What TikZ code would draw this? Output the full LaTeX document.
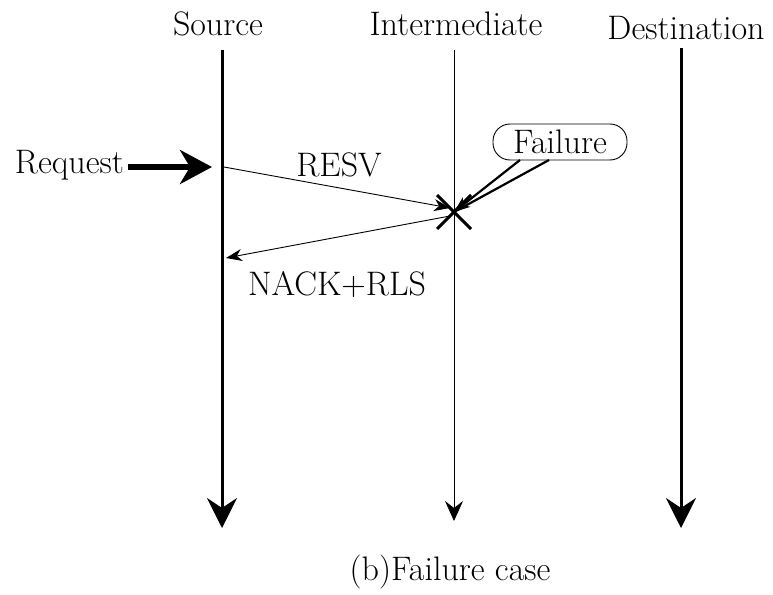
\documentclass[tikz,border=0pt]{standalone}
\usepackage{fontspec}
\usetikzlibrary{arrows.meta}
\begin{document}
\begin{tikzpicture}[x=1pt,y=-1pt,
  lbl/.style={font=\fontsize{34}{38}\selectfont, inner sep=0pt},
  lifeline/.style={line width=3pt, -{Stealth[length=30pt,width=30pt,inset=10pt]}},
  thinline/.style={line width=0.8pt, -{Stealth[length=20pt,width=18pt,inset=7pt]}},
  msg/.style={line width=0.9pt, -{Stealth[length=16pt,width=12pt,inset=5pt]}}]
\useasboundingbox (0,0) rectangle (773,594);
% entity headers
\node[lbl] (src) at (218,24) {Source};
\node[lbl] (mid) at (456,24) {Intermediate};
\node[lbl] (dst) at (686,28) {Destination};
% lifelines
\coordinate (srcTop) at (222,50);
\coordinate (srcEnd) at (222,528);
\coordinate (midTop) at (454,50);
\coordinate (midEnd) at (454,521);
\coordinate (dstTop) at (681,48);
\coordinate (dstEnd) at (681,528);
\draw[lifeline] (srcTop) -- (srcEnd);
\draw[thinline] (midTop) -- (midEnd);
\draw[lifeline] (dstTop) -- (dstEnd);
% incoming request
\node[lbl, anchor=east] (req) at (124,165) {Request};
\coordinate (reqEnd) at (212,167);
\draw[line width=6pt, -{Stealth[length=32pt,width=34pt,inset=10pt]}] (req.east) ++(4,2) -- (reqEnd);
% reservation message and failure point
\coordinate (resvStart) at (224,167);
\coordinate (cross) at (454,212);
\draw[msg] (resvStart) -- (450,208);
\node[lbl] (resv) at (339,165) {RESV};
\draw[line width=3pt] (cross) ++(-17,-17) -- ++(34,34);
\draw[line width=3pt] (cross) ++(-17,17) -- ++(34,-34);
% failure label
\node[lbl, draw, line width=0.9pt, rounded corners=17pt, minimum width=134pt, minimum height=36pt] (fail) at (560,142) {Failure};
\draw[line width=2.2pt, -{Stealth[length=16pt,width=12pt,inset=5pt]}] (520,160) -- (cross);
\draw[line width=2.2pt] (549,160) -- (cross);
% negative acknowledgement back to the source
\coordinate (nackEnd) at (226,258);
\draw[msg] (450,216) -- (nackEnd);
\node[lbl] (nack) at (337,285) {NACK+RLS};
% caption
\node[lbl] (cap) at (450,572) {(b)Failure case};
\end{tikzpicture}
\end{document}
